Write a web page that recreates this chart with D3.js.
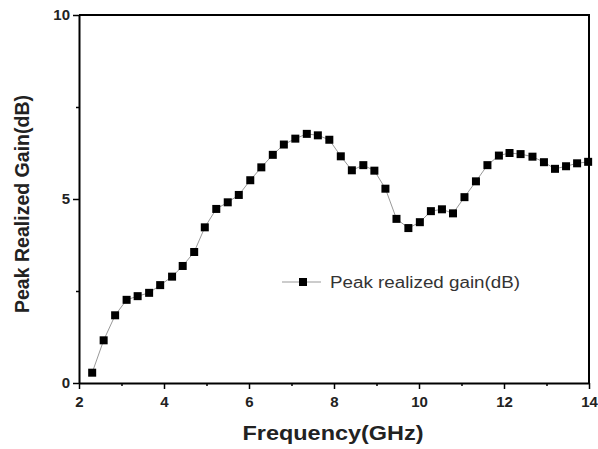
<!DOCTYPE html>
<html>
<head>
<meta charset="utf-8">
<script src="https://cdn.jsdelivr.net/npm/d3@7"></script>
<style>
  body { margin: 0; background: #fff; }
  svg text { font-family: "Liberation Sans", Arial, sans-serif; }
</style>
</head>
<body>
<div id="chart"></div>
<script>
// values
var freq = [2.31, 2.58, 2.85, 3.12, 3.38, 3.65, 3.91, 4.19, 4.44, 4.71, 4.96, 5.23, 5.50,
    5.76, 6.03, 6.29, 6.56, 6.82, 7.09, 7.36, 7.62, 7.89, 8.16, 8.42, 8.69, 8.95, 9.21,
    9.47, 9.75, 10.02, 10.28, 10.54, 10.80, 11.07, 11.34, 11.61, 11.88, 12.13, 12.39,
    12.67, 12.94, 13.20, 13.46, 13.72, 13.98];
var gain = [0.28, 1.16, 1.84, 2.26, 2.36, 2.45, 2.66, 2.89, 3.18, 3.56, 4.23, 4.73, 4.91,
    5.11, 5.51, 5.86, 6.20, 6.48, 6.64, 6.77, 6.73, 6.61, 6.16, 5.78, 5.92, 5.77, 5.28,
    4.46, 4.21, 4.37, 4.67, 4.72, 4.61, 5.05, 5.48, 5.92, 6.18, 6.25, 6.22,
    6.15, 6.00, 5.82, 5.89, 5.97, 6.01];
var xTicks = [2, 4, 6, 8, 10, 12, 14];
var xMinor = [3, 5, 7, 9, 11, 13];
var yTicks = [0, 5, 10];
var yMinor = [2.5, 7.5];
var seriesName = 'Peak realized gain(dB)';

var width = 598, height = 449,
    margin = { top: 15, right: 9, bottom: 66, left: 79 };

var svg = d3.select('#chart')
    .append('svg')
    .attr('width', width)
    .attr('height', height);

var x = d3.scaleLinear().domain([2, 14]).range([margin.left, width - margin.right]);
var y = d3.scaleLinear().domain([0, 10]).range([height - margin.bottom, margin.top]);

var data = freq.map((f, i) => ({ f: f, g: gain[i] }));

// frame (top and right)
svg.append('path')
    .attr('d', `M${x(2)},${y(10)}H${x(14)}V${y(0)}`)
    .attr('fill', 'none')
    .attr('stroke', '#000')
    .attr('stroke-width', 2);

// x axis
var xAxis = svg.append('g')
    .attr('transform', `translate(0,${y(0)})`)
    .call(d3.axisBottom(x).tickValues(xTicks).tickFormat(d3.format('d')).tickSize(6).tickSizeOuter(0));
svg.append('g')
    .attr('transform', `translate(0,${y(0)})`)
    .call(d3.axisBottom(x).tickValues(xMinor).tickFormat('').tickSize(3).tickSizeOuter(0))
    .call(g => g.select('.domain').remove());

// y axis
var yAxis = svg.append('g')
    .attr('transform', `translate(${x(2)},0)`)
    .call(d3.axisLeft(y).tickValues(yTicks).tickFormat(d3.format('d')).tickSize(6).tickSizeOuter(0));
svg.append('g')
    .attr('transform', `translate(${x(2)},0)`)
    .call(d3.axisLeft(y).tickValues(yMinor).tickFormat('').tickSize(3).tickSizeOuter(0))
    .call(g => g.select('.domain').remove());

svg.selectAll('.domain').attr('stroke-width', 2);
svg.selectAll('.tick line').attr('stroke-width', 1.5);

xAxis.selectAll('text')
    .attr('font-size', 15)
    .attr('font-weight', 'bold')
    .attr('fill', '#222')
    .attr('dy', '1.0em');
yAxis.selectAll('text')
    .attr('font-size', 15)
    .attr('font-weight', 'bold')
    .attr('fill', '#222')
    .attr('x', -9);

// axis titles
svg.append('text')
    .attr('x', 333)
    .attr('y', 440)
    .attr('text-anchor', 'middle')
    .attr('font-size', 21)
    .attr('font-weight', 'bold')
    .attr('fill', '#222')
    .attr('textLength', 181)
    .attr('lengthAdjust', 'spacingAndGlyphs')
    .text('Frequency(GHz)');

svg.append('text')
    .attr('transform', `translate(29,204) rotate(-90)`)
    .attr('text-anchor', 'middle')
    .attr('font-size', 20)
    .attr('font-weight', 'bold')
    .attr('fill', '#222')
    .attr('textLength', 218)
    .attr('lengthAdjust', 'spacingAndGlyphs')
    .text('Peak Realized Gain(dB)');

// series line
var line = d3.line().x(d => x(d.f)).y(d => y(d.g));
svg.append('path')
    .datum(data)
    .attr('d', line)
    .attr('fill', 'none')
    .attr('stroke', '#999')
    .attr('stroke-width', 1);

// markers
var size = 8;
svg.selectAll('.pt')
    .data(data)
    .enter()
    .append('rect')
    .attr('class', 'pt')
    .attr('x', d => x(d.f) - size / 2)
    .attr('y', d => y(d.g) - size / 2)
    .attr('width', size)
    .attr('height', size)
    .attr('fill', '#000');

// legend
var lg = svg.append('g').attr('transform', 'translate(282,282)');
lg.append('line')
    .attr('x1', 0).attr('x2', 39)
    .attr('stroke', '#999')
    .attr('stroke-width', 1);
lg.append('rect')
    .attr('x', 21 - size / 2).attr('y', -size / 2)
    .attr('width', size).attr('height', size)
    .attr('fill', '#000');
lg.append('text')
    .attr('x', 48)
    .attr('dy', '0.36em')
    .attr('font-size', 16)
    .attr('fill', '#333')
    .attr('textLength', 190)
    .attr('lengthAdjust', 'spacingAndGlyphs')
    .text(seriesName);
</script>
</body>
</html>
